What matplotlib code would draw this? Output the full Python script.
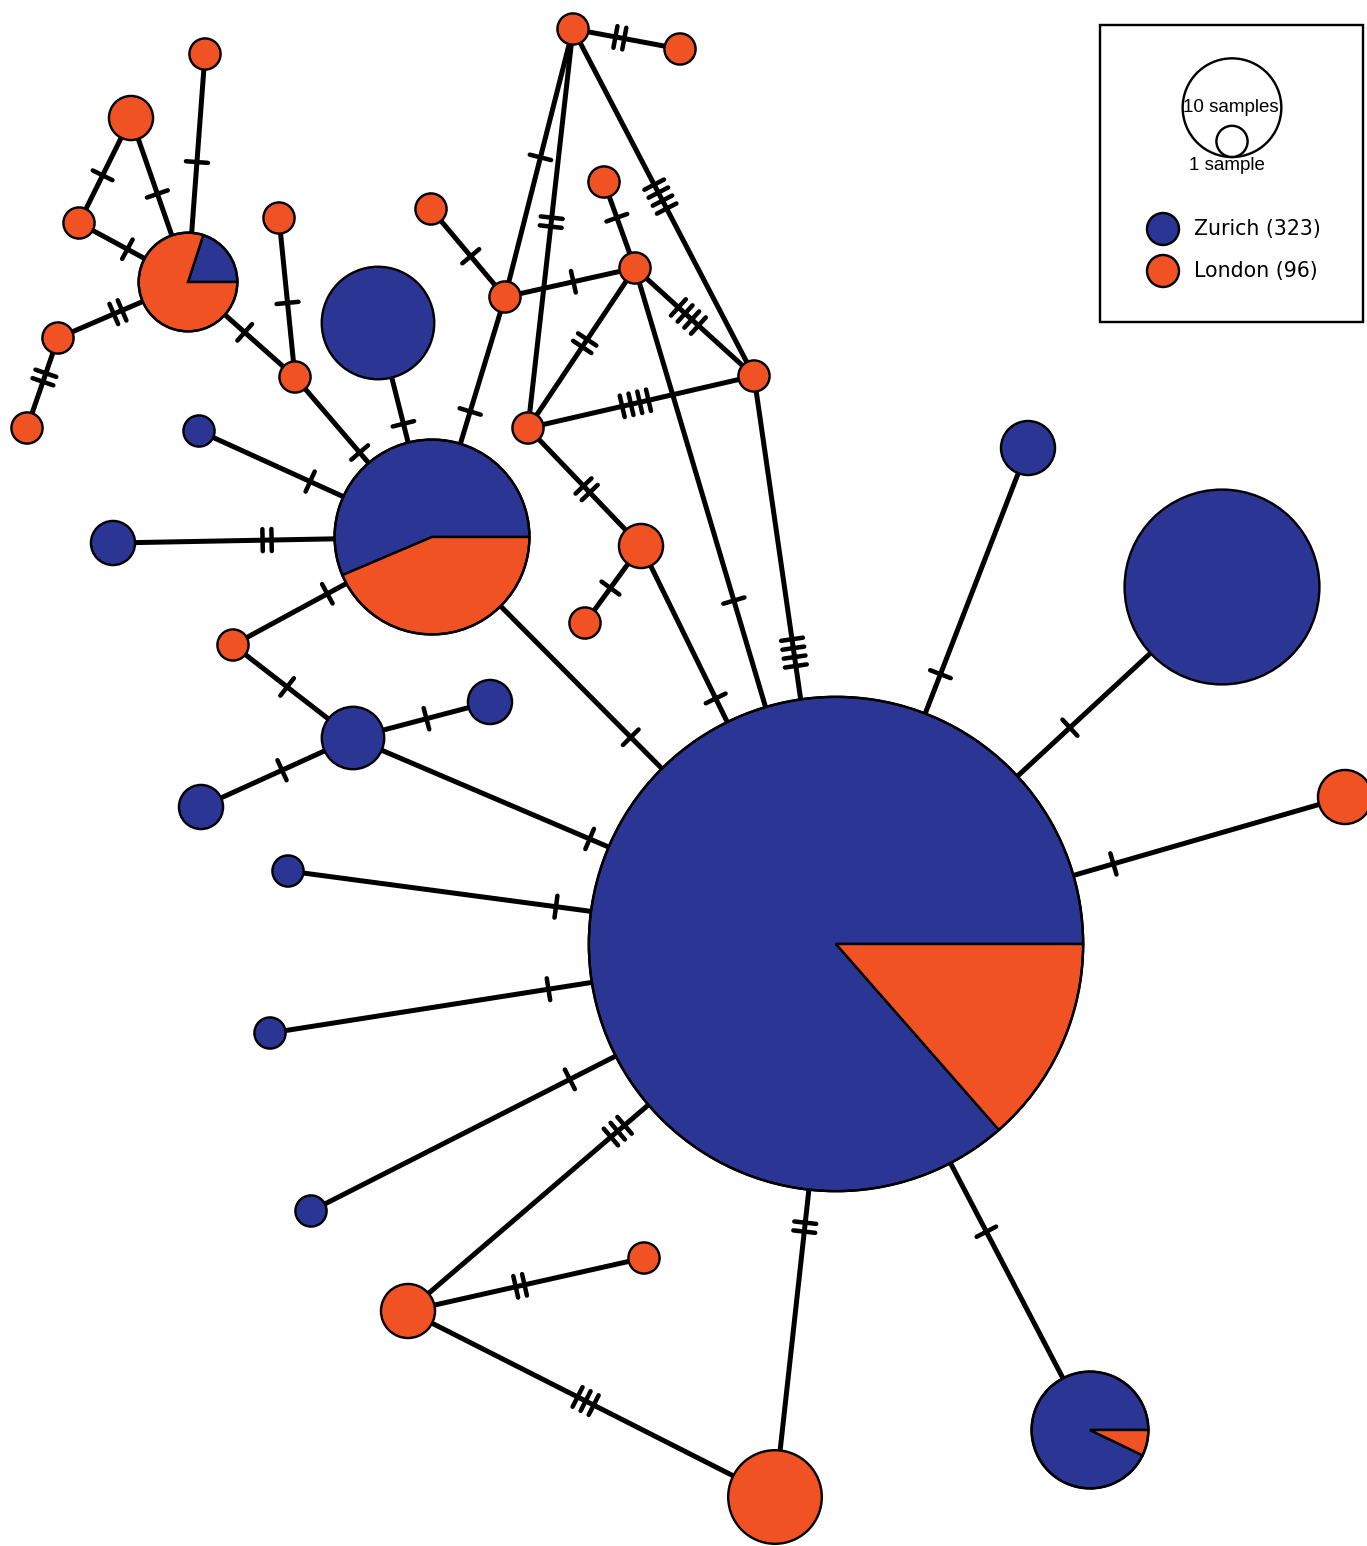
import numpy as np
import matplotlib
matplotlib.use("Agg")
import matplotlib.pyplot as plt
from matplotlib.patches import Circle, Wedge, Rectangle

# ---------------- data ----------------
populations = ["Zurich", "London"]
population_totals = [323, 96]
haplotypes = ["H%02d" % (k + 1) for k in range(37)]
zurich_counts = [217, 39, 3, 0, 13, 0, 0, 0, 1, 1, 1, 4, 2, 2, 0, 22, 2, 1, 13,
                 0, 0, 2, 0, 0, 0, 0, 0, 0, 0, 0, 0, 0, 0, 0, 0, 0, 0]
london_counts = [34, 0, 0, 3, 1, 9, 3, 1, 0, 0, 0, 0, 0, 0, 1, 17, 0, 0, 0,
                 1, 1, 8, 2, 1, 1, 1, 1, 1, 1, 1, 1, 1, 1, 1, 1, 2, 1]
edge_from = [0, 0, 0, 0, 0, 0, 0, 0, 0, 0, 0, 0, 0, 0,
             6, 6, 11, 11, 11, 14, 15, 15, 15, 15, 15, 19, 19, 21, 21, 21, 21,
             22, 25, 27, 27, 27, 29, 29, 29, 31, 32, 32, 34, 34, 35]
edge_to = [1, 2, 3, 4, 5, 6, 8, 9, 10, 11, 15, 35, 32, 33,
           7, 5, 12, 13, 14, 15, 16, 17, 18, 19, 27, 20, 21, 23, 22, 24, 25,
           24, 26, 28, 29, 32, 30, 34, 33, 32, 33, 34, 33, 35, 36]
edge_mutations = [1, 1, 1, 1, 2, 3, 1, 1, 1, 1, 1, 1, 1, 4,
                  2, 3, 1, 1, 1, 1, 2, 1, 1, 1, 1, 1, 1, 1, 1, 1, 2,
                  1, 2, 1, 1, 1, 2, 2, 4, 1, 4, 2, 4, 2, 1]

# ---------------- layout (pixel positions of the network) ----------------
node_x = [836, 1222, 1028, 1345, 1090, 775, 408, 644, 311, 270, 288, 353, 490,
          201, 233, 432, 113, 199, 378, 295, 279, 188, 131, 205, 79, 58, 27,
          505, 431, 573, 680, 604, 635, 754, 528, 641, 585]
node_y = [944, 587, 448, 797, 1430, 1497, 1311, 1258, 1211, 1033, 871, 738, 702,
          807, 645, 537, 543, 431, 323, 377, 218, 282, 118, 54, 223, 338, 428,
          297, 209, 29, 49, 182, 268, 376, 428, 546, 623]
hash_pos = [0.606, 0.544, 0.545, 0.592, 0.512, 0.510, 0.507, 0.508, 0.511, 0.510,
            0.508, 0.617, 0.508, 0.513,
            0.475, 0.484, 0.536, 0.467, 0.549, 0.474, 0.517, 0.523, 0.529, 0.528,
            0.523, 0.466, 0.470, 0.526, 0.537, 0.556, 0.539,
            0.546, 0.439, 0.463, 0.521, 0.526, 0.438, 0.484, 0.483, 0.415, 0.449,
            0.470, 0.475, 0.519, 0.546]

W, H = 1367, 1546
ZUR = "#2b3594"
LON = "#f05223"
colors = [ZUR, LON]
RSCALE = 15.6          # radius (px) of a one-sample circle
PT = 72.0 / 100.0      # points per pixel at dpi 100
OUTLINE = 2.4 * PT

fig = plt.figure(figsize=(W / 100, H / 100), dpi=100)
ax = fig.add_axes([0, 0, 1, 1])
ax.set_xlim(0, W)
ax.set_ylim(H, 0)
ax.set_aspect("equal")
ax.axis("off")

# edges
for a, b in zip(edge_from, edge_to):
    ax.plot([node_x[a], node_x[b]], [node_y[a], node_y[b]], color="black",
            lw=5.0 * PT, solid_capstyle="butt", zorder=1)

# mutation hash marks
TICK_LEN = 22.0
TICK_GAP = 9.0
for a, b, m, t in zip(edge_from, edge_to, edge_mutations, hash_pos):
    p1 = np.array([node_x[a], node_y[a]], float)
    p2 = np.array([node_x[b], node_y[b]], float)
    d = p2 - p1
    u = d / np.linalg.norm(d)
    n = np.array([-u[1], u[0]])
    c = p1 + t * d
    for k in range(m):
        off = (k - (m - 1) / 2.0) * TICK_GAP
        q = c + off * u
        s = q - n * TICK_LEN / 2
        e = q + n * TICK_LEN / 2
        ax.plot([s[0], e[0]], [s[1], e[1]], color="black", lw=4.5 * PT,
                solid_capstyle="round", zorder=2)

# nodes (pie charts)
for x, y, z, l in zip(node_x, node_y, zurich_counts, london_counts):
    total = z + l
    r = RSCALE * np.sqrt(total)
    if z == 0 or l == 0:
        col = ZUR if l == 0 else LON
        ax.add_patch(Circle((x, y), r, facecolor=col, edgecolor="black",
                            lw=OUTLINE, zorder=3))
    else:
        phi = 360.0 * z / total
        # y axis is inverted: visual counter-clockwise angle phi -> data angle -phi
        ax.add_patch(Wedge((x, y), r, 360 - phi, 360, facecolor=ZUR,
                           edgecolor="black", lw=OUTLINE, zorder=3))
        ax.add_patch(Wedge((x, y), r, 0, 360 - phi, facecolor=LON,
                           edgecolor="black", lw=OUTLINE, zorder=3))
        ax.add_patch(Circle((x, y), r, facecolor="none", edgecolor="black",
                            lw=OUTLINE, zorder=4))

# legend box
ax.add_patch(Rectangle((1100, 25), 263, 297, facecolor="white", edgecolor="black",
                       lw=2.4 * PT, zorder=5))
r10 = RSCALE * np.sqrt(10)
r1 = RSCALE
base = 157
ax.add_patch(Circle((1232, base - r10), r10, facecolor="white", edgecolor="black",
                    lw=2.4 * PT, zorder=6))
ax.add_patch(Circle((1232, base - r1), r1, facecolor="white", edgecolor="black",
                    lw=2.4 * PT, zorder=6))
ax.text(1231, 107, "10 samples", ha="center", va="center", fontsize=13.5,
        family="Liberation Sans", zorder=7)
ax.text(1227, 166, "1 sample", ha="center", va="center", fontsize=13.5,
        family="Liberation Sans", zorder=7)
for k, (pop, tot) in enumerate(zip(populations, population_totals)):
    yy = 229 + 42 * k
    ax.add_patch(Circle((1163, yy), 16, facecolor=colors[k], edgecolor="black",
                        lw=2.4 * PT, zorder=6))
    ax.text(1194, yy, "%s (%d)" % (pop, tot), ha="left", va="center",
            fontsize=14.8, family="DejaVu Sans", zorder=7)

fig.savefig("out.png", dpi=100)
